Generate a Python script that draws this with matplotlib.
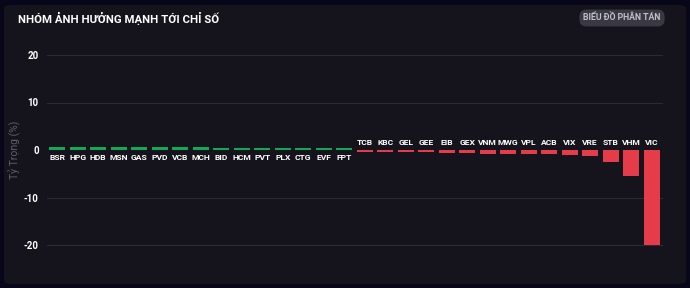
import matplotlib
matplotlib.use("Agg")
import matplotlib.pyplot as plt
from matplotlib.patches import FancyBboxPatch

plt.rcParams['font.family'] = ['Roboto', 'DejaVu Sans']

categories = ["BSR", "HPG", "HDB", "MSN", "GAS", "PVD", "VCB", "MCH", "BID", "HCM",
              "PVT", "PLX", "CTG", "EVF", "FPT", "TCB", "KBC", "GEL", "GEE", "EIB",
              "GEX", "VNM", "MWG", "VPL", "ACB", "VIX", "VRE", "STB", "VHM", "VIC"]
values = [0.7, 0.7, 0.65, 0.65, 0.65, 0.65, 0.65, 0.65, 0.4, 0.4,
          0.4, 0.4, 0.4, 0.4, 0.4, -0.4, -0.4, -0.4, -0.4, -0.55,
          -0.55, -0.8, -0.8, -0.8, -0.8, -1.1, -1.3, -2.5, -5.5, -20.0]
yticks = [-20, -10, 0, 10, 20]

title = "NHÓM ẢNH HƯỞNG MẠNH TỚI CHỈ SỐ"
button = "BIỂU ĐỒ PHÂN TÁN"
ylabel = "Tỷ Trọng (%)"

fig = plt.figure(figsize=(6.9, 2.88), dpi=100)
fig.patch.set_facecolor("#08071a")

bg = fig.add_axes([0, 0, 1, 1], zorder=-5)
bg.set_axis_off()
bg.set_xlim(0, 1)
bg.set_ylim(0, 1)
bg.add_patch(FancyBboxPatch((4/690, 4/288), 682/690, 279/288,
                            boxstyle="round,pad=0,rounding_size=0.012",
                            transform=bg.transAxes, facecolor="#15131b",
                            edgecolor="none"))

ax = fig.add_axes([47/690, 1-245/288, (662-47)/690, 190/288], zorder=1)
ax.set_facecolor("none")
x = list(range(len(categories)))
colors = ["#10a956" if v >= 0 else "#e63c4a" for v in values]
ax.bar(x, values, width=0.8, color=colors, zorder=3)
ax.set_xlim(-0.5, len(categories) - 0.5)
ax.set_ylim(-20, 20)
ax.set_yticks(yticks)
ax.set_yticklabels([str(t) for t in yticks], color="white", fontsize=7, fontweight="bold")
ax.tick_params(axis="y", length=0, pad=6)
ax.set_xticks([])
for t in yticks:
    if t != 0:
        ax.axhline(t, color="#2c2a35", lw=0.8, zorder=1, clip_on=False)
for s in ax.spines.values():
    s.set_visible(False)

for xi, (c, v) in enumerate(zip(categories, values)):
    if v >= 0:
        ax.annotate(c, (xi, 0), xytext=(0, -3), textcoords="offset points",
                    ha="center", va="top", color="white", fontsize=6.1, fontweight="bold")
    else:
        ax.annotate(c, (xi, 0), xytext=(0, 3), textcoords="offset points",
                    ha="center", va="bottom", color="white", fontsize=6.1, fontweight="bold")

ax.set_ylabel(ylabel, color="#5f5e6a", fontsize=7.5, labelpad=2)

fig.text(18/690, 1-18/288, title, color="white", fontsize=8.2, fontweight="bold",
         ha="left", va="center")
fig.text(622/690, 1-18/288, button, color="#c0c0cc", fontsize=6.3, fontweight="bold",
         ha="center", va="center",
         bbox=dict(boxstyle="round,pad=0.45,rounding_size=0.8", facecolor="#3a3942",
                   edgecolor="none"))

fig.savefig("out.png", dpi=100, facecolor=fig.get_facecolor())
